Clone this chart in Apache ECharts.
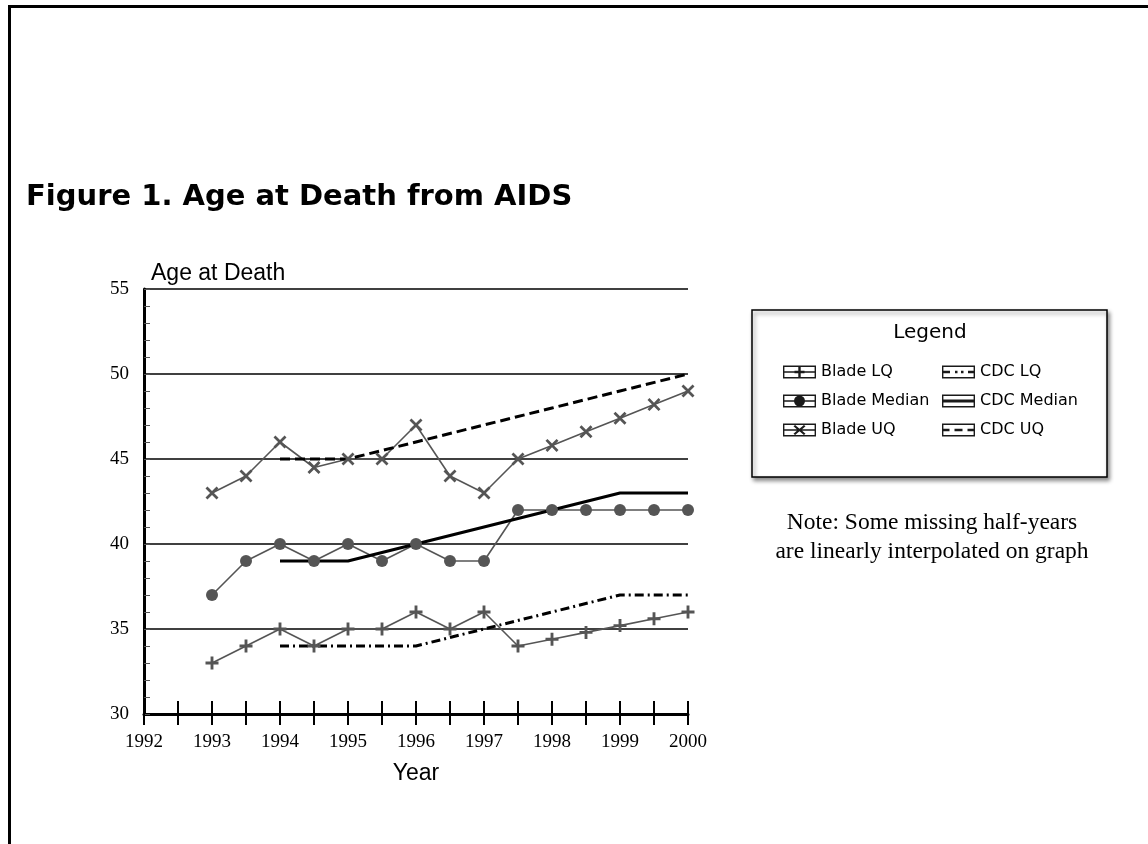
<!DOCTYPE html>
<html>
<head>
<meta charset="utf-8">
<title>Age at Death from AIDS</title>
<script src="https://cdn.jsdelivr.net/npm/echarts@6/dist/echarts.min.js"></script>
<style>
  html, body { margin: 0; padding: 0; background: #fff; }
  #main { width: 1148px; height: 844px; }
</style>
</head>
<body>
<div id="main"></div>
<script>
// half-year points for the Blade series
var bladeYears = [1993, 1993.5, 1994, 1994.5, 1995, 1995.5, 1996, 1996.5, 1997, 1997.5, 1998, 1998.5, 1999, 1999.5, 2000];
var bladeLQ     = [33, 34, 35, 34, 35, 35, 36, 35, 36, 34, 34.4, 34.8, 35.2, 35.6, 36];
var bladeMedian = [37, 39, 40, 39, 40, 39, 40, 39, 39, 42, 42, 42, 42, 42, 42];
var bladeUQ     = [43, 44, 46, 44.5, 45, 45, 47, 44, 43, 45, 45.8, 46.6, 47.4, 48.2, 49];

// yearly points for the CDC series
var cdcYears  = [1994, 1995, 1996, 1997, 1998, 1999, 2000];
var cdcLQ     = [34, 34, 34, 35, 36, 37, 37];
var cdcMedian = [39, 39, 40, 41, 42, 43, 43];
var cdcUQ     = [45, 45, 46, 47, 48, 49, 50];

var noteLines = ['Note: Some missing half-years', 'are linearly interpolated on graph'];

function pairs(xs, ys) {
    return xs.map(function (x, i) { return [x, ys[i]]; });
}

var SERIF = '"Liberation Serif", "DejaVu Serif", serif';
var SANS = '"Liberation Sans", Arial, sans-serif';
var GRANDE = '"DejaVu Sans", Verdana, sans-serif';
var GREY = '#555';

// marker shapes
var plusPath = 'path://M3.9 0H6.1V3.9H10V6.1H6.1V10H3.9V6.1H0V3.9H3.9Z';
var crossPath = 'path://M0 1.5L1.5 0L5 3.5L8.5 0L10 1.5L6.5 5L10 8.5L8.5 10L5 6.5L1.5 10L0 8.5L3.5 5Z';

// legend icons: 33x13 box with a line (and marker) through it
var box = 'M0 0H33V13H0ZM1.4 1.4V11.6H31.6V1.4Z';
var iconBladeLQ = 'path://' + box + 'M1 5.8H32V7.2H1ZM15.3 1.5H17.7V11.5H15.3ZM11.5 5.3H21.5V7.7H11.5Z';
var iconBladeMed = 'path://' + box + 'M1 5.8H32V7.2H1ZM22 6.5A5.5 5.5 0 1 1 11 6.5A5.5 5.5 0 1 1 22 6.5Z';
var iconBladeUQ = 'path://' + box + 'M1 5.8H32V7.2H1ZM10.5 2.8L12.1 1.4L16.5 5.2L20.9 1.4L22.5 2.8L18.3 6.5L22.5 10.2L20.9 11.6L16.5 7.8L12.1 11.6L10.5 10.2L14.7 6.5Z';
var iconCdcLQ = 'path://' + box + 'M1 5.2H8V7.8H1ZM13 5.2H15.5V7.8H13ZM19 5.2H21.5V7.8H19ZM26 5.2H32V7.8H26Z';
var iconCdcMed = 'path://' + box + 'M1 5.1H32V7.9H1Z';
var iconCdcUQ = 'path://' + box + 'M1 5.2H7.5V7.8H1ZM12.5 5.2H20.5V7.8H12.5ZM25.5 5.2H32V7.8H25.5Z';

var iconStyle = { color: '#1a1a1a', borderWidth: 0 };

var myChart = echarts.init(document.getElementById('main'));

var option = {
    animation: false,
    backgroundColor: '#fff',
    title: {
        text: 'Figure 1. Age at Death from AIDS',
        left: 26,
        top: 183,
        padding: 0,
        textStyle: { fontFamily: GRANDE, fontWeight: 'bold', fontSize: 29, color: '#000' }
    },
    grid: { left: 144, right: 460, top: 289, bottom: 130 },
    xAxis: [{
        type: 'value',
        min: 1992,
        max: 2000,
        interval: 0.5,
        position: 'bottom',
        name: 'Year',
        nameLocation: 'middle',
        nameGap: 48,
        nameTextStyle: { fontFamily: SANS, fontSize: 23, color: '#000' },
        axisLine: { show: true, onZero: false, lineStyle: { color: '#000', width: 3 } },
        axisTick: { show: true, length: 11, lineStyle: { color: '#000', width: 2 } },
        axisLabel: {
            margin: 19,
            fontFamily: SERIF, fontSize: 19, color: '#000',
            formatter: function (v) { return v % 1 === 0 ? String(v) : ''; }
        },
        splitLine: { show: false }
    }, {
        type: 'value',
        min: 1992,
        max: 2000,
        interval: 0.5,
        position: 'bottom',
        axisLine: { show: false },
        axisTick: { show: true, inside: true, length: 13, lineStyle: { color: '#000', width: 2 } },
        axisLabel: { show: false },
        splitLine: { show: false }
    }],
    yAxis: {
        type: 'value',
        min: 30,
        max: 55,
        interval: 5,
        name: 'Age at Death',
        nameLocation: 'end',
        nameGap: 4,
        nameTextStyle: { fontFamily: SANS, fontSize: 23, color: '#000', align: 'left', padding: [0, 0, 0, 7] },
        axisLine: { show: true, onZero: false, lineStyle: { color: '#000', width: 3 } },
        axisTick: { show: true, inside: true, length: 6, lineStyle: { color: GREY, width: 1 } },
        minorTick: { show: true, splitNumber: 5, length: 6, lineStyle: { color: GREY, width: 1 } },
        axisLabel: { margin: 15, fontFamily: SERIF, fontSize: 19, color: '#000' },
        splitLine: { show: true, lineStyle: { color: '#000', width: 1.5 } }
    },
    legend: [{
        orient: 'vertical',
        left: 778,
        top: 359,
        itemWidth: 33,
        itemHeight: 13,
        itemGap: 13,
        selectedMode: false,
        textStyle: { fontFamily: GRANDE, fontSize: 16, color: '#000' },
        data: [
            { name: 'Blade LQ', icon: iconBladeLQ, itemStyle: iconStyle },
            { name: 'Blade Median', icon: iconBladeMed, itemStyle: iconStyle },
            { name: 'Blade UQ', icon: iconBladeUQ, itemStyle: iconStyle }
        ],
        z: 10
    }, {
        orient: 'vertical',
        left: 937,
        top: 359,
        itemWidth: 33,
        itemHeight: 13,
        itemGap: 13,
        selectedMode: false,
        textStyle: { fontFamily: GRANDE, fontSize: 16, color: '#000' },
        data: [
            { name: 'CDC LQ', icon: iconCdcLQ, itemStyle: iconStyle },
            { name: 'CDC Median', icon: iconCdcMed, itemStyle: iconStyle },
            { name: 'CDC UQ', icon: iconCdcUQ, itemStyle: iconStyle }
        ],
        z: 10
    }],
    graphic: [
        // page frame (top and left edges)
        { type: 'line', shape: { x1: 8, y1: 6.5, x2: 1148, y2: 6.5 }, style: { stroke: '#000', lineWidth: 3 } },
        { type: 'line', shape: { x1: 9.5, y1: 5, x2: 9.5, y2: 844 }, style: { stroke: '#000', lineWidth: 3 } },
        // legend frame
        {
            type: 'rect', z: 1,
            shape: { x: 752, y: 310, width: 355, height: 167 },
            style: {
                fill: '#fff', stroke: '#000', lineWidth: 1.5,
                shadowBlur: 4, shadowOffsetX: 2, shadowOffsetY: 3, shadowColor: 'rgba(0,0,0,0.45)'
            }
        },
        {
            type: 'text', z: 2, x: 930, y: 333,
            style: { text: 'Legend', fill: '#000', font: '20px ' + GRANDE, align: 'center', verticalAlign: 'middle' }
        },
        {
            type: 'text', x: 932, y: 523,
            style: { text: noteLines[0], fill: '#000', font: '23.5px ' + SERIF, align: 'center', verticalAlign: 'middle' }
        },
        {
            type: 'text', x: 932, y: 552,
            style: { text: noteLines[1], fill: '#000', font: '23.5px ' + SERIF, align: 'center', verticalAlign: 'middle' }
        }
    ],
    series: [{
        name: 'Blade LQ', type: 'line',
        data: pairs(bladeYears, bladeLQ),
        symbol: plusPath, symbolSize: 13,
        itemStyle: { color: GREY, borderWidth: 0 },
        lineStyle: { color: GREY, width: 1.6 }
    }, {
        name: 'Blade Median', type: 'line',
        data: pairs(bladeYears, bladeMedian),
        symbol: 'circle', symbolSize: 12,
        itemStyle: { color: GREY, borderWidth: 0 },
        lineStyle: { color: GREY, width: 1.6 }
    }, {
        name: 'Blade UQ', type: 'line',
        data: pairs(bladeYears, bladeUQ),
        symbol: crossPath, symbolSize: 13,
        itemStyle: { color: GREY, borderWidth: 0 },
        lineStyle: { color: GREY, width: 1.6 }
    }, {
        name: 'CDC LQ', type: 'line',
        data: pairs(cdcYears, cdcLQ),
        symbol: 'none',
        itemStyle: { color: '#000' },
        lineStyle: { color: '#000', width: 3, type: [9, 4, 2, 4] }
    }, {
        name: 'CDC Median', type: 'line',
        data: pairs(cdcYears, cdcMedian),
        symbol: 'none',
        itemStyle: { color: '#000' },
        lineStyle: { color: '#000', width: 3 }
    }, {
        name: 'CDC UQ', type: 'line',
        data: pairs(cdcYears, cdcUQ),
        symbol: 'none',
        itemStyle: { color: '#000' },
        lineStyle: { color: '#000', width: 3, type: [10, 5] }
    }]
};

myChart.setOption(option);
</script>
</body>
</html>
